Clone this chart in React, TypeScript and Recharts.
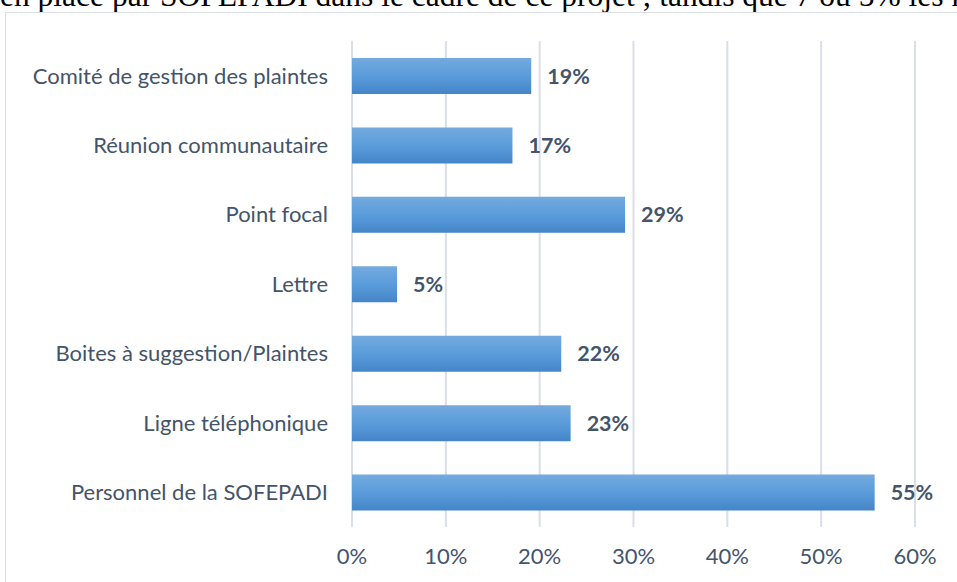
import React from "react";
import { BarChart, Bar, XAxis, YAxis, CartesianGrid, LabelList } from "recharts";

// canaux de plainte et pourcentages
const categories = [
  "Comité de gestion des plaintes",
  "Réunion communautaire",
  "Point focal",
  "Lettre",
  "Boites à suggestion/Plaintes",
  "Ligne téléphonique",
  "Personnel de la SOFEPADI",
];
const percentages = [19.1, 17.1, 29.1, 4.8, 22.3, 23.3, 55.7];
const valueLabels = ["19%", "17%", "29%", "5%", "22%", "23%", "55%"];
const xTicks = [0, 10, 20, 30, 40, 50, 60];

const chartData = categories.map((name, i) => ({
  name,
  value: percentages[i],
  label: valueLabels[i],
}));

const TEXT = "#44546A";
const GRID = "#d9dee7";
const FONT = "Lato, 'Open Sans', sans-serif";

export default function App() {
  return (
    <div
      style={{
        position: "absolute",
        left: 0,
        top: 0,
        width: 957,
        height: 582,
        overflow: "hidden",
        background: "#fff",
      }}
    >
      {/* ligne de texte du document, coupée en haut */}
      <div
        style={{
          position: "absolute",
          left: 0,
          top: -20,
          whiteSpace: "nowrap",
          fontFamily: "'Liberation Serif', 'Times New Roman', serif",
          fontSize: 31.5,
          lineHeight: "32px",
          color: "#000",
        }}
      >
        en place par SOFEPADI dans le cadre de ce projet ; tandis que 7 ou 5% les répondants
      </div>
      {/* cadre du graphique */}
      <div
        style={{
          position: "absolute",
          left: 5,
          top: 12,
          width: 1000,
          height: 700,
          border: `1.5px solid ${GRID}`,
        }}
      />
      <div style={{ position: "absolute", left: 0, top: 0 }}>
        <BarChart
          width={957}
          height={582}
          data={chartData}
          layout="vertical"
          margin={{ top: 41, right: 42, left: 12, bottom: 0 }}
          barSize={36}
        >
          <defs>
            <linearGradient id="barFill" x1="0" y1="0" x2="0" y2="1">
              <stop offset="0%" stopColor="#74aade" />
              <stop offset="50%" stopColor="#5a9cdb" />
              <stop offset="100%" stopColor="#4485c8" />
            </linearGradient>
          </defs>
          <CartesianGrid horizontal={false} stroke={GRID} strokeWidth={2} />
          <XAxis
            type="number"
            domain={[0, 60]}
            ticks={xTicks}
            tickFormatter={(v: number) => `${v}%`}
            axisLine={false}
            tickLine={false}
            height={55}
            tickMargin={15}
            tick={{ fill: TEXT, fontSize: 22, fontFamily: FONT }}
          />
          <YAxis
            type="category"
            dataKey="name"
            width={340}
            axisLine={false}
            tickLine={false}
            tickMargin={18}
            tick={{ fill: TEXT, fontSize: 22, fontFamily: FONT }}
          />
          <Bar dataKey="value" fill="url(#barFill)" isAnimationActive={false}>
            <LabelList
              dataKey="label"
              position="right"
              offset={16}
              style={{ fill: TEXT, fontSize: 21.5, fontWeight: 700, fontFamily: FONT }}
            />
          </Bar>
        </BarChart>
      </div>
    </div>
  );
}
